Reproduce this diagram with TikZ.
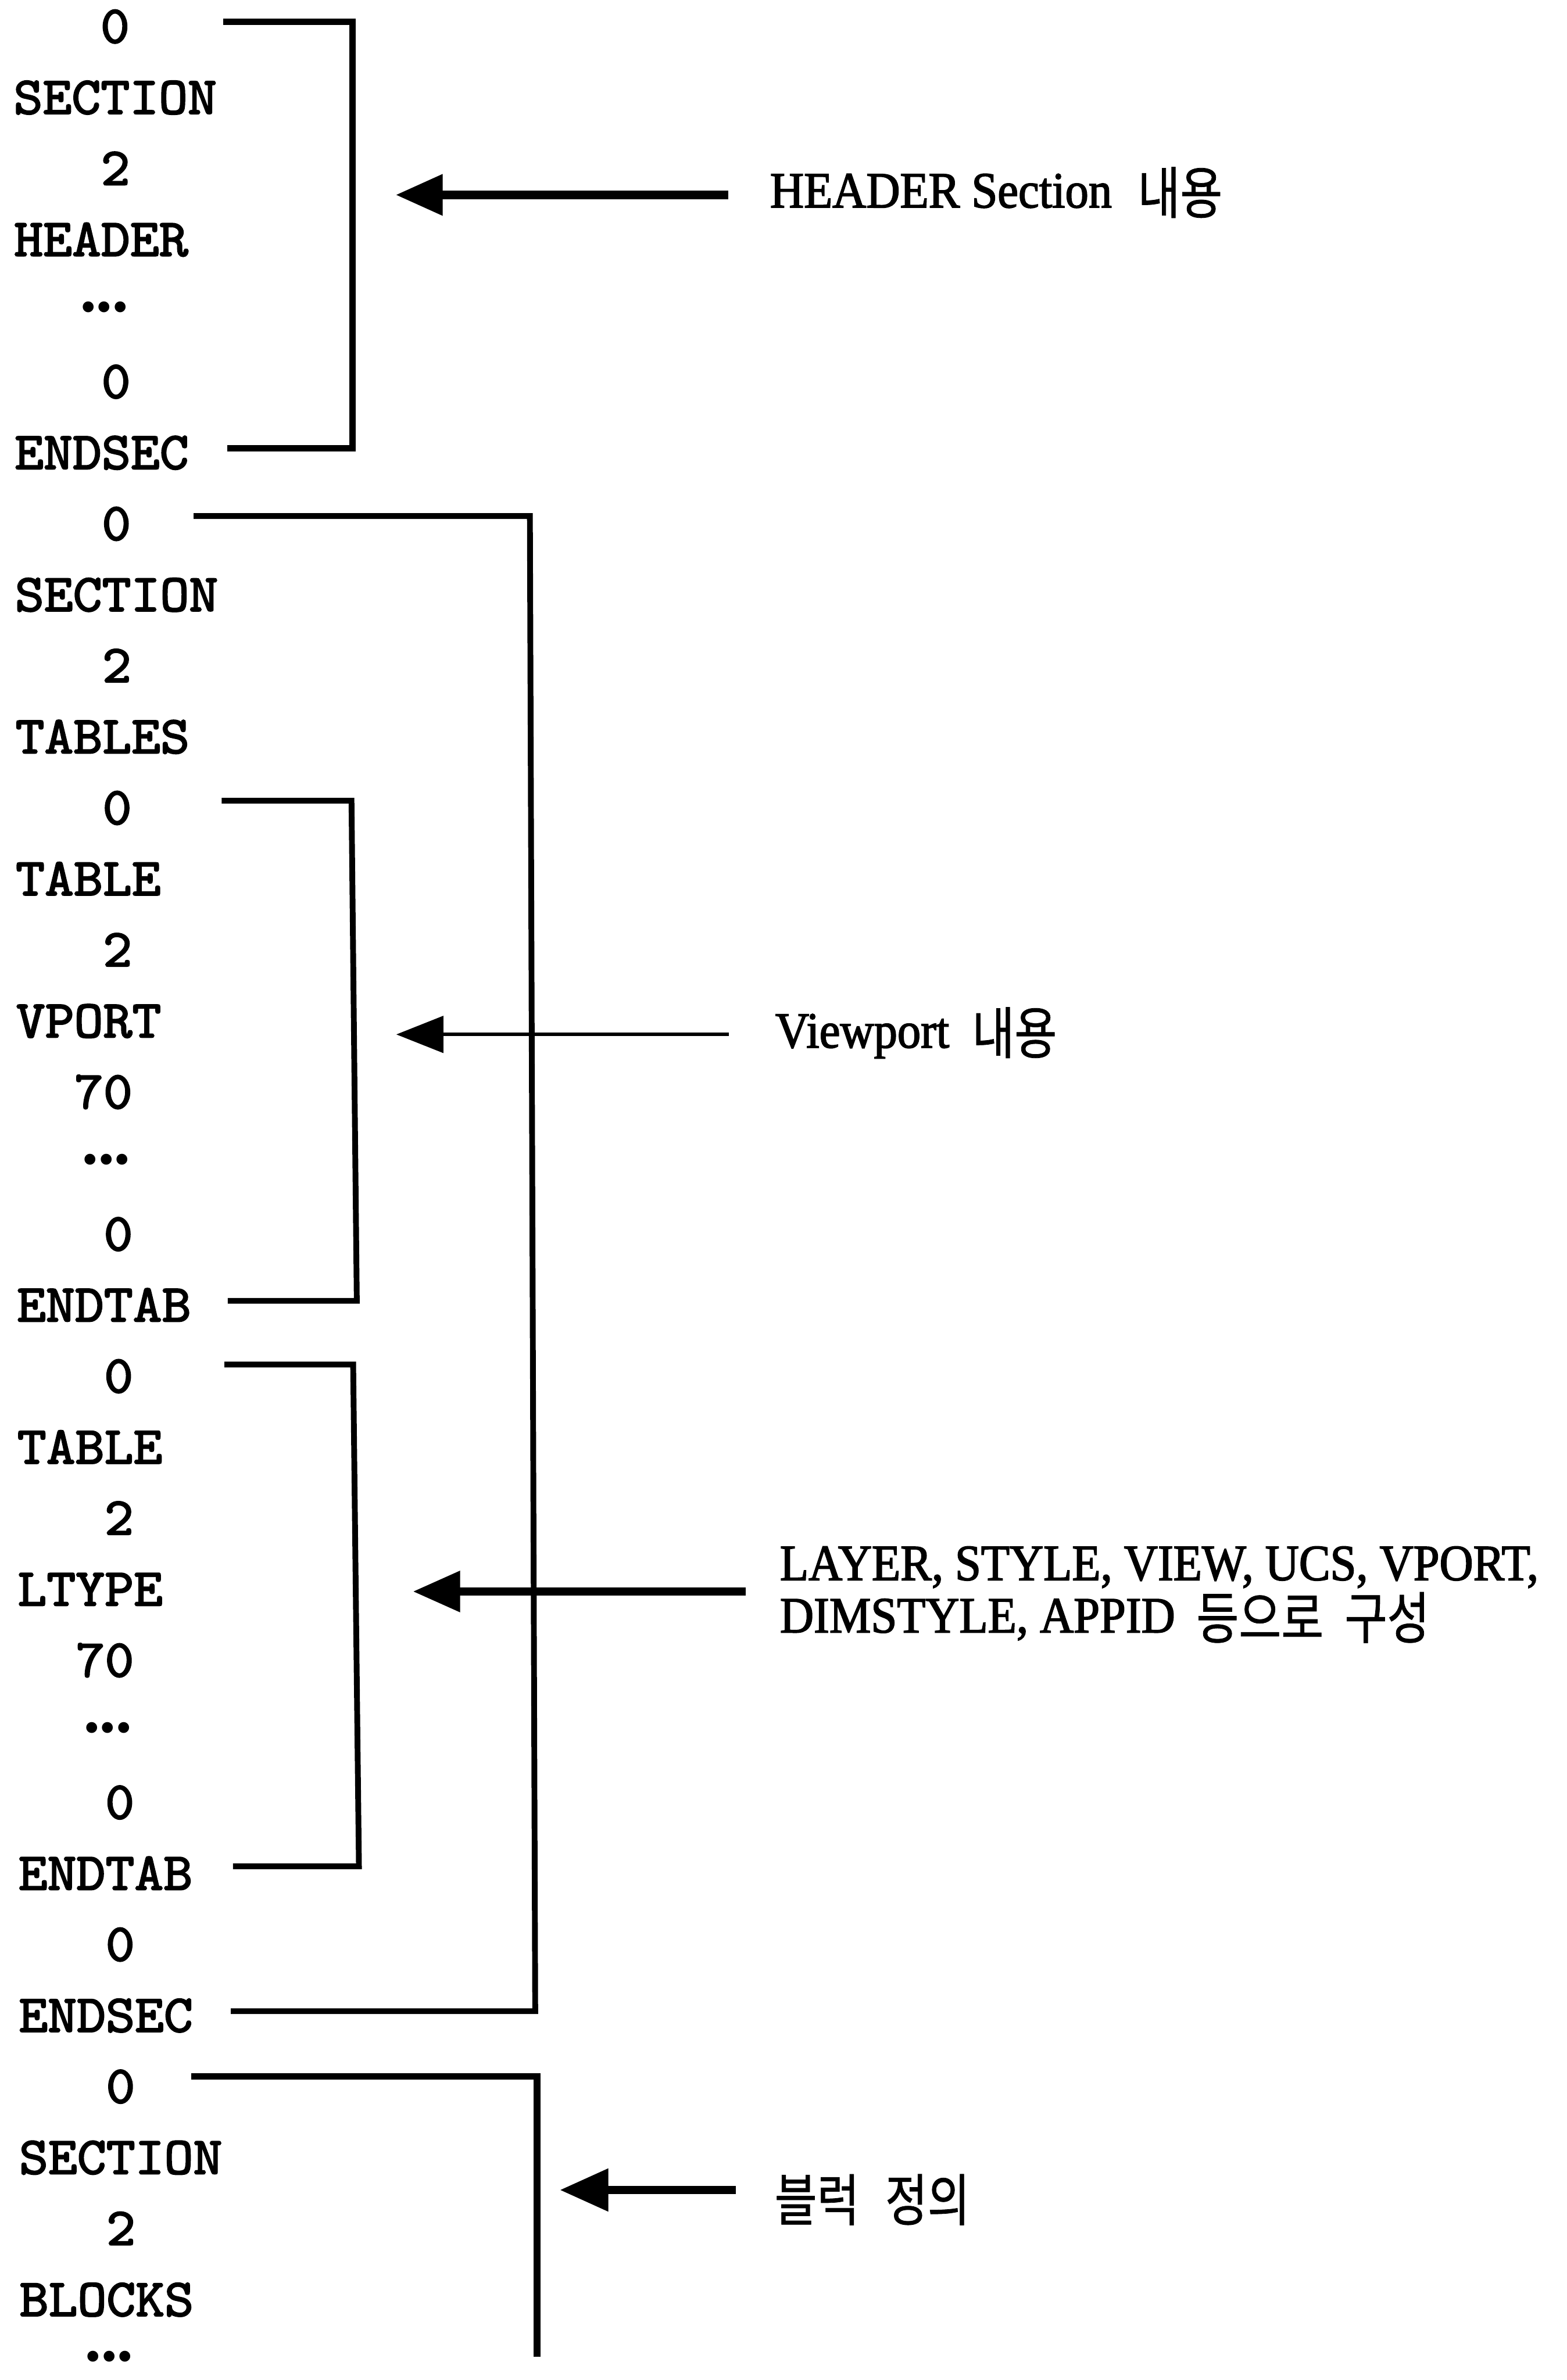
\documentclass[tikz,border=0pt]{standalone}
\usepackage{fontspec}
\usetikzlibrary{arrows.meta}
\newfontfamily\monofont{lmmono10-regular.otf}[FakeBold=2.5,FakeStretch=1.04]
\newfontfamily\labfont{Liberation Serif}[FakeStretch=0.92,FakeBold=2]
\newfontfamily\krfont{Noto Sans CJK KR}[FakeStretch=0.82,FakeBold=0.8]
\newfontfamily\dotfont{Liberation Serif}
\newcommand\kr[1]{\raisebox{-4pt}{\krfont\fontsize{37}{37}\selectfont #1}}
\tikzset{
  mono/.style={font=\monofont\fontsize{35}{35}\selectfont, anchor=base west, inner sep=0pt},
  dotrow/.style={font=\dotfont\fontsize{30}{30}\selectfont, anchor=base, inner sep=0pt},
  lab/.style={font=\labfont\fontsize{33.5}{34.5}\selectfont, anchor=base west, inner sep=0pt},
  brk/.style={line width=3.8pt, line join=miter},
  arr/.style={-{Triangle[length=31pt,width=26pt]}, line width=5.5pt}
}
\begin{document}
\begin{tikzpicture}[x=1pt,y=-1pt]
\useasboundingbox (0,0) rectangle (1032,1568);
% left column
\foreach \i/\c/\t in {0/3/0, 1/0/SECTION, 2/3/2, 3/0/HEADER, 5/3/0, 6/0/ENDSEC,
  7/3/0, 8/0/SECTION, 9/3/2, 10/0/TABLES, 11/3/0, 12/0/TABLE, 13/3/2, 14/0/VPORT,
  15/2/70, 17/3/0, 18/0/ENDTAB, 19/3/0, 20/0/TABLE, 21/3/2, 22/0/LTYPE, 23/2/70,
  25/3/0, 26/0/ENDTAB, 27/3/0, 28/0/ENDSEC, 29/3/0, 30/0/SECTION, 31/3/2, 32/0/BLOCKS}
  \node[mono] (r\i) at ({8.7+0.125*\i+\c*19.11},{28.2+46.8*\i}) {\t};
\foreach \i in {4,16,24}
  \node[dotrow] (r\i) at ({68.3+0.11*\i},{25.2+46.8*\i}) {•••};
\node[dotrow] (r33) at (71.9,1562.5) {•••};
% bracket corners
\coordinate (b1a) at (147,14.4);   \coordinate (b1b) at (232.3,14.4);
\coordinate (b1c) at (232.3,295.4); \coordinate (b1d) at (149.5,295.4);
\coordinate (b2a) at (127.5,340);  \coordinate (b2b) at (349,340);
\coordinate (b2c) at (352.5,1325); \coordinate (b2d) at (152,1325);
\coordinate (b3a) at (146,527.5);  \coordinate (b3b) at (231.5,527.5);
\coordinate (b3c) at (235,857);    \coordinate (b3d) at (150,857);
\coordinate (b4a) at (147.8,899);  \coordinate (b4b) at (232.6,899);
\coordinate (b4c) at (236.4,1229.5); \coordinate (b4d) at (153.5,1229.5);
\coordinate (b5a) at (126,1368);   \coordinate (b5b) at (353.7,1368);
\coordinate (b5c) at (353.7,1552.5);
\draw[brk, line width=4.3pt] (b1a) -- (b1b) -- (b1c) -- (b1d);
\draw[brk] (b2a) -- (b2b) -- (b2c) -- (b2d);
\draw[brk] (b3a) -- (b3b) -- (b3c) -- (b3d);
\draw[brk] (b4a) -- (b4b) -- (b4c) -- (b4d);
\draw[brk, line width=4.5pt] (b5a) -- (b5b) -- (b5c);
% labels
\node[lab] (l1) at (507,136.7) {HEADER Section\hspace{17pt}\kr{내용}};
\node[lab] (l2) at (510.5,690.2) {Viewport\hspace{15pt}\kr{내용}};
\node[lab] (l3a) at (513.5,1041) {LAYER, STYLE, VIEW, UCS, VPORT,};
\node[lab] (l3b) at (513.5,1075.5) {DIMSTYLE, APPID\hspace{14pt}\kr{등으로\hspace{14pt}구성}};
\node[lab] (l4) at (510,1459) {\kr{블럭\hspace{17pt}정의}};
% arrows
\coordinate (t1) at (479.6,128.4); \coordinate (h1) at (260.6,128.4);
\coordinate (t2) at (480,681.5);   \coordinate (h2) at (261,681.5);
\coordinate (t3) at (491,1048.5);  \coordinate (h3) at (272,1048.5);
\coordinate (t4) at (484.6,1442.8); \coordinate (h4) at (368.7,1442.8);
\draw[arr] (t1) -- (h1);
\draw[arr, line width=2.2pt, -{Triangle[length=31pt,width=24pt]}] (t2) -- (h2);
\draw[arr, line width=5pt] (t3) -- (h3);
\draw[arr, -{Triangle[length=32pt,width=27pt]}] (t4) -- (h4);
\end{tikzpicture}
\end{document}
